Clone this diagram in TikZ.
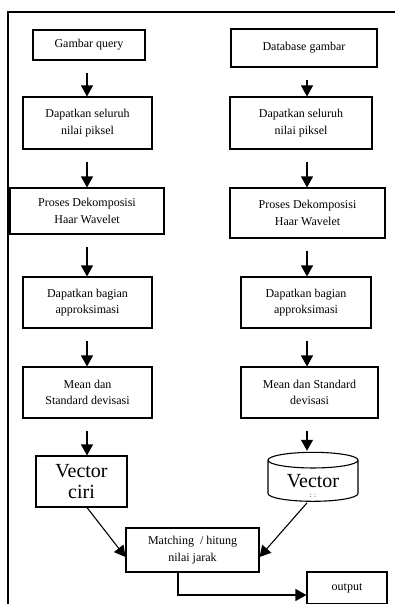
\documentclass[tikz,border=0pt]{standalone}
\usepackage{fontspec}
\setmainfont{Liberation Serif}
\usetikzlibrary{arrows.meta}
\usetikzlibrary{positioning, shapes.geometric, calc}

\tikzset{
  box/.style={draw, line width=1.1pt, align=center, inner sep=0pt,
    font=\fontsize{12}{16.5}\selectfont},
  bigtext/.style={font=\fontsize{20}{21}\selectfont},
  arr/.style={line width=1.1pt, -{Triangle[width=12pt,length=11pt]}},
}

\begin{document}
\begin{tikzpicture}[x=1pt,y=-1pt]
  \useasboundingbox (0,0) rectangle (395,604);

  % Frame
  \coordinate (fa) at (8,604);
  \coordinate (fb) at (8,12);
  \coordinate (fc) at (396,12);
  \draw[line width=1.5pt] (fa) -- (fb) -- (fc);

  % Query side
  \node[box,minimum width=112pt,minimum height=30pt] (q1) at (89,45)    {Gambar query};
  \node[box,minimum width=129pt,minimum height=52pt] (q2) at (87.5,123) {Dapatkan seluruh\\nilai piksel};
  \node[box,minimum width=154pt,minimum height=46pt] (q3) at (87,211)   {Proses Dekomposisi\\Haar Wavelet};
  \node[box,minimum width=129pt,minimum height=51pt] (q4) at (87.5,302.5) {Dapatkan bagian\\approksimasi};
  \node[box,minimum width=129pt,minimum height=51pt] (q5) at (87.5,392.5) {Mean dan\\Standard devisasi};
  \node[box,bigtext,minimum width=91pt,minimum height=51pt] (q6) at (81.5,481.5) {Vector\\ciri};

  % Database side
  \node[box,minimum width=146pt,minimum height=38pt] (d1) at (304,48)    {Database gambar};
  \node[box,minimum width=142pt,minimum height=52pt] (d2) at (301,123)   {Dapatkan seluruh\\nilai piksel};
  \node[box,minimum width=155pt,minimum height=50pt] (d3) at (307.5,213) {Proses Dekomposisi\\Haar Wavelet};
  \node[box,minimum width=130pt,minimum height=51pt] (d4) at (306,302.5) {Dapatkan bagian\\approksimasi};
  \node[box,minimum width=137pt,minimum height=51pt] (d5) at (309.5,392.5) {Mean dan Standard\\devisasi};
  \node[cylinder,shape border rotate=90,draw,line width=1.1pt,bigtext,aspect=0.3,
        minimum width=90pt,minimum height=49pt,inner sep=0pt] (d6) at (313,481) {Vector};
  \node[font=\fontsize{7}{7}\selectfont,inner sep=0pt] (d6dots) at (313,496) {:\,\,:};

  % Matching and output
  \node[box,minimum width=133pt,minimum height=44pt] (m) at (192.5,550) {Matching \ / hitung\\nilai jarak};
  \node[box,minimum width=80pt,minimum height=32pt] (o) at (347,588) {output};

  % Arrow columns
  \coordinate (lc) at (87,0);
  \coordinate (rc) at (307,0);

  \foreach \a/\b in {q1/q2,q2/q3,q3/q4,q4/q5,q5/q6}
    \draw[arr] ([yshift=-12pt]lc |- \a.south) -- (lc |- \b.north);
  \foreach \a/\b in {d1/d2,d2/d3,d3/d4,d4/d5}
    \draw[arr] ([yshift=-12pt]rc |- \a.south) -- (rc |- \b.north);
  \draw[arr] ([yshift=-12pt]rc |- d5.south) -- ([yshift=1pt]rc |- d6.north);

  % Into matching
  \draw[arr] (lc |- q6.south) -- ([yshift=-7pt]m.west);
  \draw[arr] ([yshift=-1pt]rc |- d6.south) -- ([yshift=-7pt]m.east);

  % Out
  \coordinate (mo) at (178,0);
  \draw[arr] (mo |- m.south) |- ([yshift=-7pt]o.west);
\end{tikzpicture}
\end{document}
